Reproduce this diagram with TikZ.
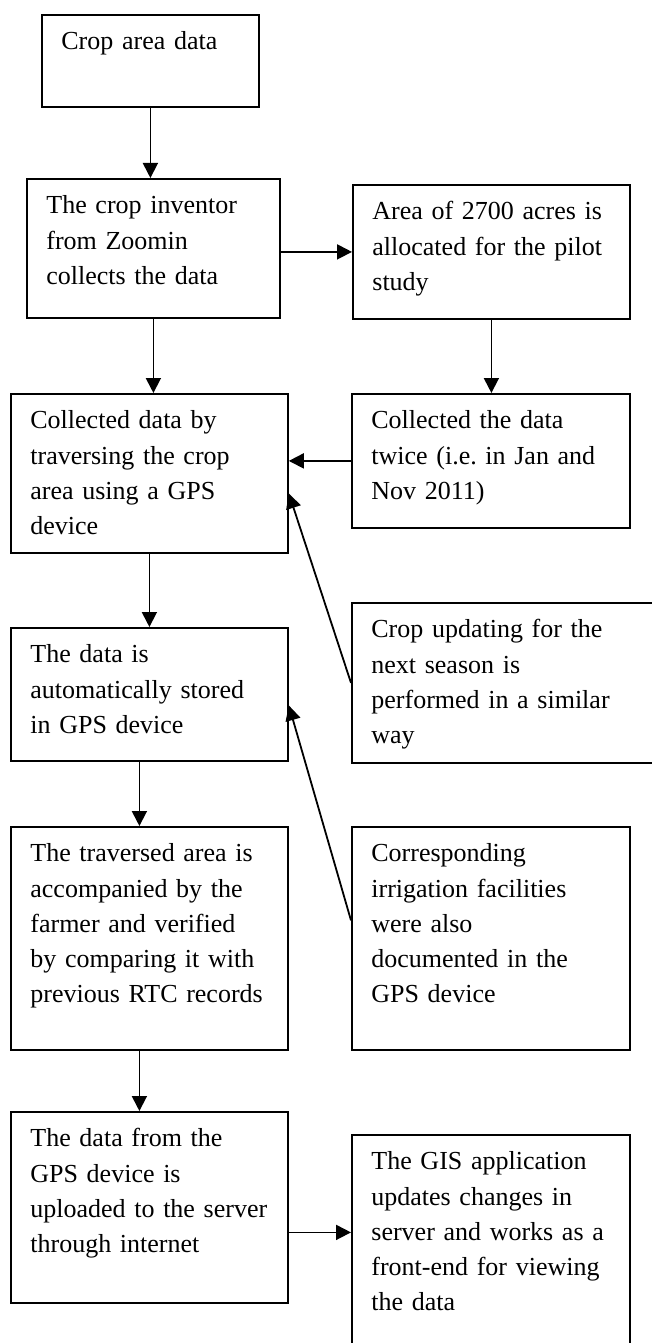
\documentclass[tikz,border=0pt]{standalone}
\usepackage{fontspec}
\setmainfont{Liberation Serif}
\usepackage{tikz}
\usetikzlibrary{arrows.meta}
\frenchspacing

\begin{document}
\begin{tikzpicture}[x=1pt,y=-1pt,
		stepbox/.style={draw,line width=1.8pt,anchor=north west,inner xsep=19.5pt,inner ysep=0pt,
			align=left,text height=35pt,font=\fontsize{26}{35.2}\selectfont},
		flow/.style={-{Triangle[length=15pt,width=15pt]},line width=1.8pt}]
			
			\useasboundingbox (0,0) rectangle (651,1343);
			
			\node[stepbox,text width=178pt,text depth=57pt] (crop) at (41,14) {Crop area data};
			\node[stepbox,text width=214pt,text depth=104pt] (inventor) at (26,178) {The crop inventor\\from Zoomin\\collects the data};
			\node[stepbox,text width=238pt,text depth=124pt] (traverse) at (10,393) {Collected data by\\traversing the crop\\area using a GPS\\device};
			\node[stepbox,text width=238pt,text depth=98pt] (stored) at (10,627) {The data is\\automatically stored\\in GPS device};
			\node[stepbox,text width=238pt,text depth=188pt] (verified) at (10,826) {The traversed area is\\accompanied by the\\farmer and verified\\by comparing it with\\previous RTC records};
			\node[stepbox,text width=238pt,text depth=156pt] (upload) at (10,1111) {The data from the\\GPS device is\\uploaded to the server\\through internet};
			
			\node[stepbox,text width=238pt,text depth=99pt] (acres) at (352,184) {Area of 2700 acres is\\allocated for the pilot\\study};
			\node[stepbox,text width=239pt,text depth=99pt] (twice) at (351,393) {Collected the data\\twice (i.e. in Jan and\\Nov 2011)};
			\node[stepbox,text width=265pt,text depth=125pt] (season) at (351,602) {Crop updating for the\\next season is\\performed in a similar\\way};
			\node[stepbox,text width=239pt,text depth=188pt] (irrigation) at (351,826) {Corresponding\\irrigation facilities\\were also\\documented in the\\GPS device};
			\node[stepbox,text width=239pt,text depth=180pt] (gis) at (351,1134) {The GIS application\\updates changes in\\server and works as a\\front-end for viewing\\the data};
			
			\draw[flow] (crop.south) -- (crop.south |- inventor.north);
			\draw[flow] (inventor.east |- acres.west) -- (acres.west);
			\draw[flow] (acres.south) -- (acres.south |- twice.north);
			\draw[flow] (inventor.south) -- (inventor.south |- traverse.north);
			\draw[flow] (twice.west) -- (traverse.east |- twice.west);
			\draw[flow] (traverse.south) -- (stored.north);
			\draw[flow] (season.west) -- ([yshift=-20pt]traverse.east);
			\draw[flow] ([xshift=-10pt]stored.south) -- ([xshift=-10pt]stored.south |- verified.north);
			\draw[flow] ([yshift=18pt]irrigation.west) -- ([yshift=-11pt]stored.east);
			\draw[flow] ([xshift=-10pt]verified.south) -- ([xshift=-10pt]verified.south |- upload.north);
			\draw[flow] ([yshift=-25pt]upload.east) -- ([yshift=-25pt]upload.east -| gis.west);
			
		\end{tikzpicture}
\end{document}
